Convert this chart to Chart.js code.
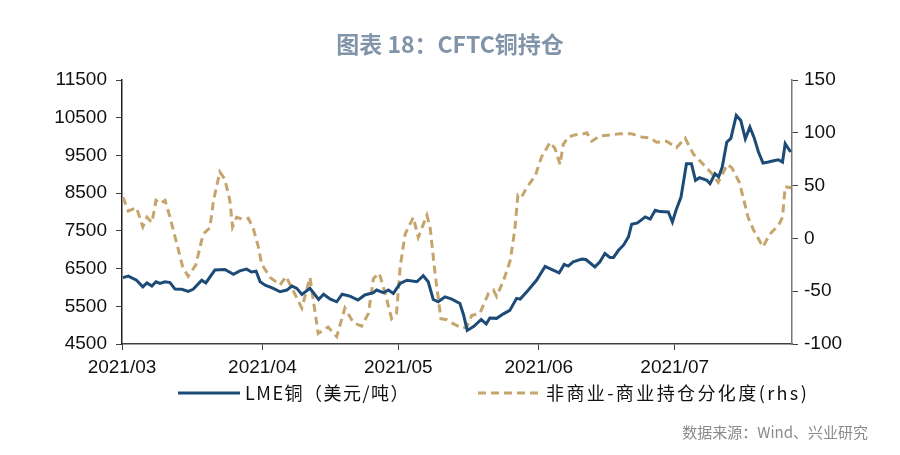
<!DOCTYPE html>
<html>
<head>
<meta charset="utf-8">
<script src="https://cdn.jsdelivr.net/npm/chart.js@4.4.0/dist/chart.umd.min.js"></script>
<style>
  body { margin: 0; background: #fff; }
  canvas { display: block; }
</style>
</head>
<body>
<canvas id="cftcChart" width="900" height="455"></canvas>
<script>
// x = days since 2021-03-01
var monthTicks = [0, 31, 61, 92, 122];
var monthLabels = ['2021/03', '2021/04', '2021/05', '2021/06', '2021/07'];

// LME copper, USD/t (left axis)
var lmeDays = [0.2, 1.4, 3.2, 4.6, 5.5, 6.6, 7.5, 8.4, 9.5, 10.6, 11.7, 13.2, 14.6, 15.7, 17.6, 18.5,
    20.5, 22.7, 24.6, 26.0, 27.5, 28.6, 29.6, 30.5, 31.6, 33.4, 34.9, 36.4, 37.5, 38.6, 39.7, 41.5,
    43.4, 44.5, 46.0, 47.4, 48.6, 50.3, 52.1, 53.6, 55.5, 56.2, 57.7, 58.8, 59.9, 61.4, 62.9, 65.1,
    66.5, 67.6, 68.7, 69.8, 71.3, 72.8, 74.6, 75.4, 76.2, 77.6, 79.3, 80.4, 81.2, 82.7, 84.2, 85.6,
    87.1, 87.9, 89.7, 91.5, 93.4, 94.8, 96.5, 97.6, 98.5, 99.6, 101.5, 102.4, 104.4, 105.5, 106.6,
    107.7, 108.5, 109.6, 110.7, 111.8, 112.5, 113.8, 115.5, 116.6, 117.7, 118.8, 120.6, 121.5, 122.3,
    123.4, 124.6, 125.7, 126.6, 127.5, 129.1, 129.8, 130.9, 131.7, 132.5, 133.5, 134.4, 135.6, 136.6,
    137.6, 138.6, 139.5, 140.5, 141.5, 142.7, 144.1, 144.9, 145.8, 146.4, 147.6];
var lmeValues = [6260, 6300, 6190, 6015, 6120, 6035, 6150, 6105, 6150, 6130, 5955, 5950, 5895, 5950, 6190, 6120,
    6460, 6475, 6350, 6440, 6485, 6410, 6430, 6150, 6060, 5975, 5885, 5930, 6035, 5975, 5815, 5975,
    5680, 5820, 5690, 5620, 5820, 5770, 5665, 5800, 5860, 5930, 5860, 5930, 5840, 6105, 6190, 6150,
    6310, 6150, 5680, 5620, 5750, 5690, 5575, 5270, 4860, 4960, 5150, 5030, 5190, 5180, 5300, 5390,
    5710, 5690, 5930, 6190, 6555, 6480, 6385, 6610, 6565, 6680, 6750, 6740, 6545, 6680, 6900,
    6795, 6795, 6985, 7120, 7340, 7675, 7710, 7870, 7810, 8045, 8010, 8000, 7735, 8045,
    8395, 9280, 9280, 8840, 8910, 8840, 8750, 9015, 8930, 9190, 9850, 9950, 10560, 10425,
    9940, 10250, 9985, 9590, 9300, 9325, 9365, 9385, 9325, 9810, 9590];

// non-commercial minus commercial net position divergence (right axis)
var netDays = [0.2, 1.4, 3.2, 4.6, 5.5, 6.6, 7.5, 8.4, 9.5, 10.6, 12.1, 13.4, 14.6, 16.3, 17.9, 19.4,
    20.2, 21.6, 22.7, 23.8, 24.4, 25.3, 26.8, 27.9, 29.0, 30.1, 30.8, 32.7, 34.9, 36.2, 37.5, 39.7,
    41.5, 43.3, 45.5, 47.4, 49.2, 51.1, 52.9, 54.4, 55.5, 56.8, 58.1, 59.5, 60.6, 61.4, 62.5, 64.3,
    65.4, 67.3, 68.0, 69.1, 70.4, 71.7, 72.8, 75.0, 76.1, 77.2, 79.0, 80.9, 82.0, 82.7, 84.2, 85.7,
    86.7, 87.4, 88.2, 89.3, 91.2, 92.6, 94.5, 95.6, 96.7, 97.4, 98.5, 100.0, 101.8, 102.6, 103.7,
    105.5, 107.7, 109.9, 112.5, 114.7, 116.6, 118.0, 120.2, 122.4, 124.3, 126.1, 127.9, 130.1, 131.6,
    133.6, 134.6, 136.3, 138.2, 139.4, 141.5, 143.0, 145.0, 145.8, 146.4, 147.7];
var netValues = [39, 26, 29, 11, 20, 15, 36, 33, 36, 20, -5, -27, -36, -25, 4, 10,
    36, 63, 56, 36, 11, 20, 18, 19, 9, -8, -24, -37, -44, -36, -47, -66,
    -37, -90, -84, -93, -66, -80, -83, -71, -38, -33, -52, -76, -71, -27, 4, 20,
    1, 22, 11, -33, -76, -77, -80, -85, -84, -73, -71, -52, -49, -55, -40, -21,
    8, 41, 39, 48, 59, 77, 91, 85, 70, 89, 96, 98, 99, 100, 92,
    97, 98, 99, 99, 96, 95, 91, 92, 86, 95, 80, 72, 62, 53,
    70, 67, 53, 20, 8, -8, 4, 13, 20, 49, 48];

function toPoints(xs, ys) {
    return xs.map(function(x, i) { return { x: x, y: ys[i] }; });
}

var blue = '#1d4b78';
var tan = '#c6a56d';
var axisColor = '#404040';
var tickFont = { size: 19, family: '"Liberation Sans", Arial, sans-serif' };

// title, legend and source note
var decorPlugin = {
    id: 'decor',
    afterDraw: function(chart) {
        var ctx = chart.ctx;
        ctx.save();
        ctx.fillStyle = '#8194a9';
        ctx.font = '600 23px "Noto Sans CJK SC", "Noto Sans", sans-serif';
        ctx.textAlign = 'center';
        ctx.textBaseline = 'middle';
        ctx.fillText('图表 18：CFTC铜持仓', 450, 44);

        ctx.lineWidth = 3;
        ctx.strokeStyle = blue;
        ctx.beginPath();
        ctx.moveTo(178, 393);
        ctx.lineTo(240, 393);
        ctx.stroke();

        ctx.strokeStyle = tan;
        ctx.setLineDash([8, 5]);
        ctx.beginPath();
        ctx.moveTo(478, 393);
        ctx.lineTo(541, 393);
        ctx.stroke();
        ctx.setLineDash([]);

        ctx.fillStyle = '#111';
        ctx.font = '18px "Noto Sans CJK SC", "Liberation Sans", sans-serif';
        ctx.textAlign = 'left';
        ctx.letterSpacing = '1.5px';
        ctx.fillText('LME铜（美元/吨）', 245, 393);
        ctx.letterSpacing = '2.4px';
        ctx.fillText('非商业-商业持仓分化度(rhs)', 546, 393);
        ctx.letterSpacing = '0px';

        ctx.fillStyle = '#8a8a8a';
        ctx.font = '15px "Noto Sans CJK SC", sans-serif';
        ctx.textAlign = 'right';
        ctx.fillText('数据来源：Wind、兴业研究', 868, 432);
        ctx.restore();
    }
};

window.onload = function() {
    var ctx = document.getElementById('cftcChart').getContext('2d');
    new Chart(ctx, {
        type: 'line',
        data: {
            datasets: [{
                label: 'LME铜（美元/吨）',
                data: toPoints(lmeDays, lmeValues),
                borderColor: blue,
                borderWidth: 3,
                pointRadius: 0,
                tension: 0,
                yAxisID: 'y',
                order: 0
            }, {
                label: '非商业-商业持仓分化度(rhs)',
                data: toPoints(netDays, netValues),
                borderColor: tan,
                borderWidth: 3,
                borderDash: [8, 5],
                pointRadius: 0,
                tension: 0,
                yAxisID: 'y1',
                order: 1
            }]
        },
        options: {
            responsive: false,
            animation: false,
            layout: { padding: { top: 80, left: 0, right: 0, bottom: 0 } },
            plugins: {
                legend: { display: false },
                tooltip: { enabled: false }
            },
            scales: {
                x: {
                    type: 'linear',
                    min: 0,
                    max: 147.9,
                    afterFit: function(scale) { scale.height = 111; },
                    afterBuildTicks: function(scale) {
                        scale.ticks = monthTicks.map(function(v) { return { value: v }; });
                    },
                    ticks: {
                        autoSkip: false,
                        maxRotation: 0,
                        padding: 6,
                        color: '#111',
                        font: tickFont,
                        callback: function(value) {
                            var i = monthTicks.indexOf(value);
                            return i >= 0 ? monthLabels[i] : '';
                        }
                    },
                    grid: { drawOnChartArea: false, drawTicks: true, tickLength: 6, color: axisColor },
                    border: { display: true, color: axisColor, width: 1.5 }
                },
                y: {
                    position: 'left',
                    min: 4500,
                    max: 11500,
                    afterFit: function(scale) { scale.width = 122; },
                    ticks: {
                        stepSize: 1000,
                        padding: 9,
                        color: '#111',
                        font: tickFont,
                        callback: function(value) { return String(value); }
                    },
                    grid: { drawOnChartArea: false, drawTicks: true, tickLength: 6, color: axisColor },
                    border: { display: true, color: '#222', width: 1.5 }
                },
                y1: {
                    position: 'right',
                    min: -100,
                    max: 150,
                    afterFit: function(scale) { scale.width = 108; },
                    ticks: {
                        stepSize: 50,
                        padding: 6,
                        color: '#111',
                        font: tickFont,
                        callback: function(value) { return String(value); }
                    },
                    grid: { drawOnChartArea: false, drawTicks: true, tickLength: 6, color: axisColor },
                    border: { display: true, color: '#777', width: 1.5 }
                }
            }
        },
        plugins: [decorPlugin]
    });
};
</script>
</body>
</html>
